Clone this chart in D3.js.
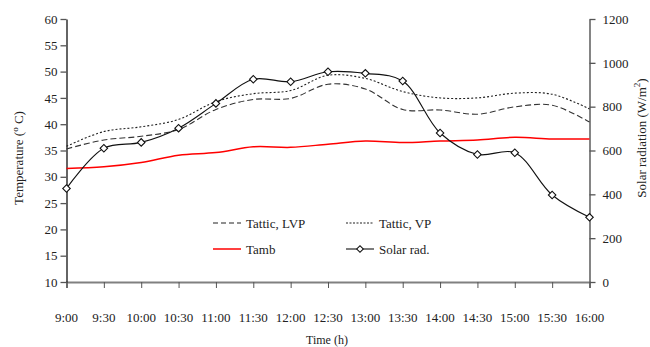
<!DOCTYPE html>
<html>
<head>
<meta charset="utf-8">
<script src="https://cdn.jsdelivr.net/npm/d3@7"></script>
<style>
  body { margin: 0; background: #fff; }
  text { font-family: "Liberation Serif", "Times New Roman", serif; fill: #222; }
</style>
</head>
<body>
<script>
/*--- data ---*/
let horas = ["9:00","9:30","10:00","10:30","11:00","11:30","12:00","12:30","13:00","13:30","14:00","14:30","15:00","15:30","16:00"];
let tatticLVP = [35.3, 37.0, 37.7, 39.0, 42.8, 44.7, 44.9, 47.6, 46.7, 42.8, 42.7, 41.9, 43.3, 43.6, 40.4];
let tatticVP  = [35.8, 38.6, 39.5, 40.9, 44.3, 45.8, 46.4, 49.3, 48.7, 46.2, 45.0, 45.0, 45.9, 45.7, 42.9];
let tamb      = [31.6, 31.9, 32.7, 34.1, 34.6, 35.7, 35.6, 36.2, 36.8, 36.5, 36.8, 37.0, 37.5, 37.2, 37.2];
let solarRad  = [427, 610, 637, 702, 815, 925, 914, 959, 952, 917, 680, 582, 590, 397, 295];
let tempTicks = [10, 15, 20, 25, 30, 35, 40, 45, 50, 55, 60];
let radTicks  = [0, 200, 400, 600, 800, 1000, 1200];

/*--- scales ---*/
let width = 650, height = 347;
let X  = d3.scalePoint().domain(horas).range([66.5, 589.5]);
let Y  = d3.scaleLinear().domain([10, 60]).range([282, 19]);
let Y2 = d3.scaleLinear().domain([0, 1200]).range([282, 19]);

let svg = d3.select("body").append("svg")
    .attr("width", width)
    .attr("height", height);

// ejes
let xEje = d3.axisBottom(X).tickSize(6).tickFormat("");
let gx = svg.append("g").attr("transform", "translate(0,282)").call(xEje);
gx.select(".domain").attr("stroke", "#808080").attr("stroke-width", 2);
gx.selectAll(".tick line").attr("stroke", "#555");

svg.append("g").selectAll("text")
    .data(horas)
    .join("text")
    .attr("x", d => X(d))
    .attr("y", 322)
    .attr("text-anchor", "middle")
    .attr("font-size", 13)
    .text(d => d);

let yEje = d3.axisLeft(Y).tickValues(tempTicks).tickSize(6).tickPadding(3).tickSizeOuter(0);
let gy = svg.append("g").attr("transform", "translate(66.5,0)").call(yEje);
gy.select(".domain").attr("stroke", "#111").attr("stroke-width", 1.3);
gy.selectAll(".tick line").attr("stroke", "#555").attr("stroke-width", 1.3);
gy.selectAll(".tick text").attr("font-size", 13).attr("font-family", "Liberation Serif").attr("fill", "#222");

let y2Eje = d3.axisRight(Y2).tickValues(radTicks).tickFormat(d3.format("d")).tickSize(6).tickPadding(7).tickSizeOuter(0);
let gy2 = svg.append("g").attr("transform", "translate(589.5,0)").call(y2Eje);
gy2.select(".domain").attr("stroke", "#666").attr("stroke-width", 1.6);
gy2.selectAll(".tick line").attr("stroke", "#555").attr("stroke-width", 1.3);
gy2.selectAll(".tick text").attr("font-size", 13).attr("font-family", "Liberation Serif").attr("fill", "#222");

// titulos
svg.append("text")
    .attr("x", 327).attr("y", 344)
    .attr("text-anchor", "middle")
    .attr("font-size", 12)
    .text("Time (h)");

let tY = svg.append("text")
    .attr("transform", "translate(23,158) rotate(-90)")
    .attr("text-anchor", "middle")
    .attr("font-size", 13);
tY.append("tspan").text("Temperature (");
tY.append("tspan").attr("dy", -5).attr("font-size", 9).text("o");
tY.append("tspan").attr("dy", 5).text(" C)");

let tY2 = svg.append("text")
    .attr("transform", "translate(646,138) rotate(-90)")
    .attr("text-anchor", "middle")
    .attr("font-size", 13);
tY2.append("tspan").text("Solar radiation (W/m");
tY2.append("tspan").attr("dy", -6).attr("font-size", 9).text("2");
tY2.append("tspan").attr("dy", 6).text(")");

/*--- lineas ---*/
let curva = d3.curveCatmullRom.alpha(0.5);
let lineaT = d3.line().x((d, i) => X(horas[i])).y(d => Y(d)).curve(curva);
let lineaR = d3.line().x((d, i) => X(horas[i])).y(d => Y2(d)).curve(curva);

svg.append("path").datum(tatticLVP)
    .attr("fill", "none").attr("stroke", "#333").attr("stroke-width", 1.1)
    .attr("stroke-dasharray", "6,3")
    .attr("d", lineaT);

svg.append("path").datum(tatticVP)
    .attr("fill", "none").attr("stroke", "#222").attr("stroke-width", 1.1)
    .attr("stroke-dasharray", "2,2")
    .attr("d", lineaT);

svg.append("path").datum(tamb)
    .attr("fill", "none").attr("stroke", "#ff0000").attr("stroke-width", 1.5)
    .attr("d", lineaT);

svg.append("path").datum(solarRad)
    .attr("fill", "none").attr("stroke", "#111").attr("stroke-width", 1.1)
    .attr("d", lineaR);

let diamante = d3.symbol().type(d3.symbolSquare).size(28);
svg.append("g").selectAll("path")
    .data(solarRad)
    .join("path")
    .attr("d", diamante)
    .attr("transform", (d, i) => "translate(" + X(horas[i]) + "," + Y2(d) + ") rotate(45)")
    .attr("fill", "#fff")
    .attr("stroke", "#111")
    .attr("stroke-width", 1.1);

/*--- leyenda ---*/
let leyenda = [
  {nombre: "Tattic, LVP", x: 213, y: 223, color: "#222", dash: "5,3", ancho: 1.1, marca: false},
  {nombre: "Tattic, VP",  x: 346, y: 223, color: "#222", dash: "2,1.5", ancho: 1.1, marca: false},
  {nombre: "Tamb",        x: 213, y: 249, color: "#ff0000", dash: null, ancho: 1.5, marca: false},
  {nombre: "Solar rad.",  x: 346, y: 249, color: "#111", dash: null, ancho: 1.1, marca: true}
];
let gl = svg.append("g").selectAll("g").data(leyenda).join("g");
gl.append("line")
    .attr("x1", d => d.x).attr("x2", d => d.x + 28)
    .attr("y1", d => d.y).attr("y2", d => d.y)
    .attr("stroke", d => d.color)
    .attr("stroke-width", d => d.ancho)
    .attr("stroke-dasharray", d => d.dash);
gl.filter(d => d.marca).append("path")
    .attr("d", d3.symbol().type(d3.symbolSquare).size(22))
    .attr("transform", d => "translate(" + (d.x + 14) + "," + d.y + ") rotate(45)")
    .attr("fill", "#fff").attr("stroke", "#111");
gl.append("text")
    .attr("x", d => d.x + 33).attr("y", d => d.y + 4.5)
    .attr("font-size", 13)
    .text(d => d.nombre);
</script>
</body>
</html>
